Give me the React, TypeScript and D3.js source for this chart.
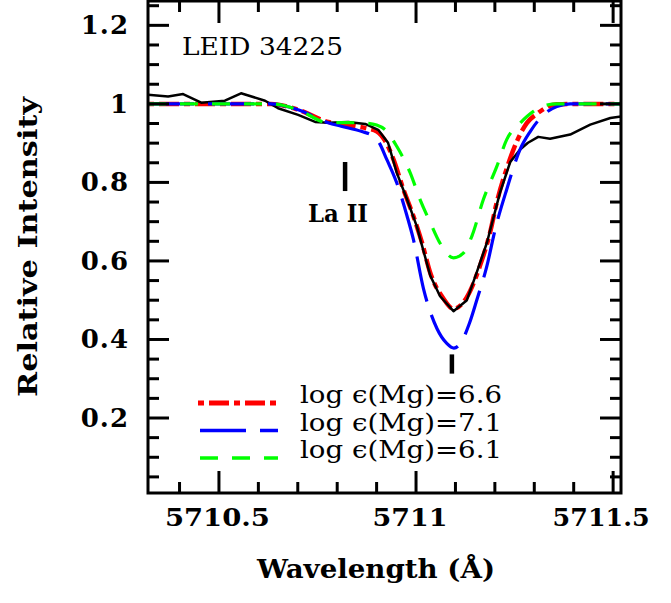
import * as d3 from "d3";

// observed spectrum (black)
const obsW = [
  5710.32, 5710.371, 5710.409, 5710.455, 5710.515, 5710.556, 5710.617, 5710.65,
  5710.701, 5710.744, 5710.777, 5710.828, 5710.871, 5710.904, 5710.929, 5710.951,
  5710.977, 5711.002, 5711.019, 5711.036, 5711.061, 5711.095, 5711.129, 5711.154,
  5711.18, 5711.213, 5711.239, 5711.264, 5711.284, 5711.31, 5711.34, 5711.391,
  5711.442, 5711.493, 5711.52,
];
const obsI = [
  1.023, 1.019, 1.025, 1.003, 1.008, 1.027, 1.008, 0.989,
  0.972, 0.954, 0.952, 0.954, 0.949, 0.934, 0.901, 0.825,
  0.757, 0.688, 0.625, 0.563, 0.51, 0.472, 0.5, 0.571,
  0.647, 0.774, 0.852, 0.884, 0.901, 0.916, 0.911, 0.922,
  0.947, 0.964, 0.968,
];

// synthetic log eps(Mg)=6.6 (red)
const redW = [
  5710.32, 5710.632, 5710.701, 5710.777, 5710.82, 5710.853, 5710.878, 5710.9,
  5710.922, 5710.943, 5710.968, 5710.993, 5711.015, 5711.036, 5711.069, 5711.095,
  5711.129, 5711.163, 5711.188, 5711.205, 5711.23, 5711.256, 5711.281, 5711.307,
  5711.357, 5711.4, 5711.52,
];
const redI = [
  1.0, 1.0, 0.985, 0.954, 0.947, 0.942, 0.937, 0.93,
  0.905, 0.858, 0.782, 0.715, 0.647, 0.57, 0.505, 0.478,
  0.508, 0.59, 0.673, 0.75, 0.835, 0.905, 0.951, 0.975,
  0.999, 1.0, 1.0,
];

// synthetic log eps(Mg)=7.1 (blue)
const blueW = [
  5710.32, 5710.632, 5710.701, 5710.777, 5710.81, 5710.861, 5710.892, 5710.904,
  5710.926, 5710.951, 5710.977, 5710.993, 5711.019, 5711.053, 5711.078, 5711.096,
  5711.114, 5711.135, 5711.154, 5711.18, 5711.201, 5711.23, 5711.264, 5711.29,
  5711.323, 5711.357, 5711.391, 5711.52,
];
const blueI = [
  1.0, 1.0, 0.985, 0.952, 0.943, 0.93, 0.917, 0.905,
  0.858, 0.799, 0.715, 0.656, 0.529, 0.428, 0.39, 0.378,
  0.392, 0.44, 0.5, 0.588, 0.681, 0.782, 0.884, 0.93,
  0.972, 0.993, 1.0, 1.0,
];

// synthetic log eps(Mg)=6.1 (green)
const greenW = [
  5710.32, 5710.632, 5710.701, 5710.777, 5710.828, 5710.871, 5710.9, 5710.922,
  5710.951, 5710.985, 5711.01, 5711.036, 5711.061, 5711.095, 5711.12, 5711.142,
  5711.171, 5711.205, 5711.23, 5711.264, 5711.298, 5711.332, 5711.357, 5711.52,
];
const greenI = [
  1.0, 1.0, 0.985, 0.952, 0.952, 0.951, 0.946, 0.934,
  0.892, 0.825, 0.757, 0.698, 0.645, 0.608, 0.62, 0.664,
  0.757, 0.841, 0.909, 0.951, 0.981, 0.997, 1.0, 1.0,
];

const xMajor = [5710.5, 5711, 5711.5];
const xMajorLabels = ["5710.5", "5711", "5711.5"];
const yMajor = [0.2, 0.4, 0.6, 0.8, 1, 1.2];
const yMajorLabels = ["0.2", "0.4", "0.6", "0.8", "1", "1.2"];

// line identifications: wavelength, bottom and top of the mark
const markW = [5710.82, 5711.091];
const markLo = [0.778, 0.313];
const markHi = [0.852, 0.362];

const legendLabels = ["log \u03f5(Mg)=6.6", "log \u03f5(Mg)=7.1", "log \u03f5(Mg)=6.1"];

const W = 671;
const H = 603;
const left = 148, right = 621, top = 1, bottom = 493;
const font = "DejaVu Serif";

// x tick label layout (the original font has a narrow "1")
const xLabelShift = [-1.5, -6, -12];
const xLabelWidth = [105, 75, 97];

const series = [
  { w: redW, v: redI, color: "#ff0000", dash: "6 5 20 5", width: 4.5 },
  { w: blueW, v: blueI, color: "#0000ff", dash: "46 14", width: 3.2 },
  { w: greenW, v: greenI, color: "#00ff00", dash: "18 14", width: 3.2 },
];

export default function App() {
  const x = d3.scaleLinear().domain([5710.32, 5711.52]).range([left, right]);
  const y = d3.scaleLinear().domain([0.009, 1.262]).range([bottom, top]);

  const makePath = (ws: number[], vs: number[], curve: d3.CurveFactory) =>
    d3
      .line<number>()
      .x((_, i) => x(ws[i]))
      .y((_, i) => y(vs[i]))
      .curve(curve)(ws) || "";

  const xMinor = x.ticks(12);
  const yMinor = y.ticks(25);
  const isMajorX = (t: number) => xMajor.some((m) => Math.abs(m - t) < 1e-6);
  const isMajorY = (t: number) => yMajor.some((m) => Math.abs(m - t) < 1e-6);

  const legendY = [403, 430.5, 458];

  return (
    <svg
      width={W}
      height={H}
      style={{ position: "absolute", left: 0, top: 0, background: "#fff" }}
    >
      <defs>
        <clipPath id="plot">
          <rect x={left} y={top} width={right - left} height={bottom - top} />
        </clipPath>
      </defs>

      {/* curves */}
      <g clipPath="url(#plot)" fill="none">
        <path
          d={makePath(redW, redI, d3.curveMonotoneX)}
          stroke={series[0].color}
          strokeWidth={series[0].width}
          strokeDasharray={series[0].dash}
        />
        <path
          d={makePath(obsW, obsI, d3.curveLinear)}
          stroke="#000"
          strokeWidth={2.5}
          strokeLinejoin="round"
        />
        {series.slice(1).map((s, i) => (
          <path
            key={i}
            d={makePath(s.w, s.v, d3.curveMonotoneX)}
            stroke={s.color}
            strokeWidth={s.width}
            strokeDasharray={s.dash}
          />
        ))}
      </g>

      {/* line marks */}
      {markW.map((w, i) => (
        <line
          key={i}
          x1={x(w)}
          x2={x(w)}
          y1={y(markLo[i])}
          y2={y(markHi[i])}
          stroke="#000"
          strokeWidth={4.5}
        />
      ))}
      <text
        x={338}
        y={222}
        textAnchor="middle"
        fontFamily={font}
        fontWeight="bold"
        fontSize={24}
        textLength={60}
        lengthAdjust="spacingAndGlyphs"
      >
        La II
      </text>

      <text
        x={182}
        y={55}
        fontFamily={font}
        fontSize={25}
        textLength={161}
        lengthAdjust="spacingAndGlyphs"
      >
        LEID 34225
      </text>

      {/* legend */}
      {series.map((s, i) => (
        <g key={i}>
          <line
            x1={i === 0 ? 198 : 200}
            x2={278}
            y1={legendY[i]}
            y2={legendY[i]}
            stroke={s.color}
            strokeWidth={i === 0 ? 5 : 3.4}
            strokeDasharray={s.dash}
          />
          <text
            x={300}
            y={legendY[i]}
            fontFamily={font}
            fontSize={25}
            textLength={202}
            lengthAdjust="spacingAndGlyphs"
          >
            {legendLabels[i]}
          </text>
        </g>
      ))}

      {/* frame and ticks */}
      <g stroke="#000" strokeWidth={3}>
        {xMinor.map((t) => {
          const len = isMajorX(t) ? 22 : 11;
          return (
            <g key={"x" + t}>
              <line x1={x(t)} x2={x(t)} y1={bottom} y2={bottom - len} />
              <line x1={x(t)} x2={x(t)} y1={top} y2={top + len} />
            </g>
          );
        })}
        {yMinor.map((t) => {
          const len = isMajorY(t) ? 21 : 11;
          return (
            <g key={"y" + t}>
              <line x1={left} x2={left + len} y1={y(t)} y2={y(t)} />
              <line x1={right} x2={right - len} y1={y(t)} y2={y(t)} />
            </g>
          );
        })}
        <rect
          x={left}
          y={top}
          width={right - left}
          height={bottom - top}
          fill="none"
        />
      </g>

      {/* tick labels */}
      {xMajor.map((t, i) => (
        <text
          key={t}
          x={x(t) + xLabelShift[i]}
          y={526}
          textAnchor="middle"
          fontFamily={font}
          fontWeight="bold"
          fontSize={25}
          textLength={xLabelWidth[i]}
          lengthAdjust="spacingAndGlyphs"
        >
          {xMajorLabels[i]}
        </text>
      ))}
      {yMajor.map((t, i) => (
        <text
          key={t}
          x={129}
          y={y(t) + 9}
          textAnchor="end"
          fontFamily={font}
          fontWeight="bold"
          fontSize={26}
          letterSpacing={1}
        >
          {yMajorLabels[i]}
        </text>
      ))}

      {/* axis titles */}
      <text
        x={376}
        y={578}
        textAnchor="middle"
        fontFamily={font}
        fontWeight="bold"
        fontSize={26}
        textLength={238}
        lengthAdjust="spacingAndGlyphs"
      >
        Wavelength (Å)
      </text>
      <text
        transform={`translate(37,247) rotate(-90)`}
        textAnchor="middle"
        fontFamily={font}
        fontWeight="bold"
        fontSize={26}
        textLength={300}
        lengthAdjust="spacingAndGlyphs"
      >
        Relative Intensity
      </text>
    </svg>
  );
}
